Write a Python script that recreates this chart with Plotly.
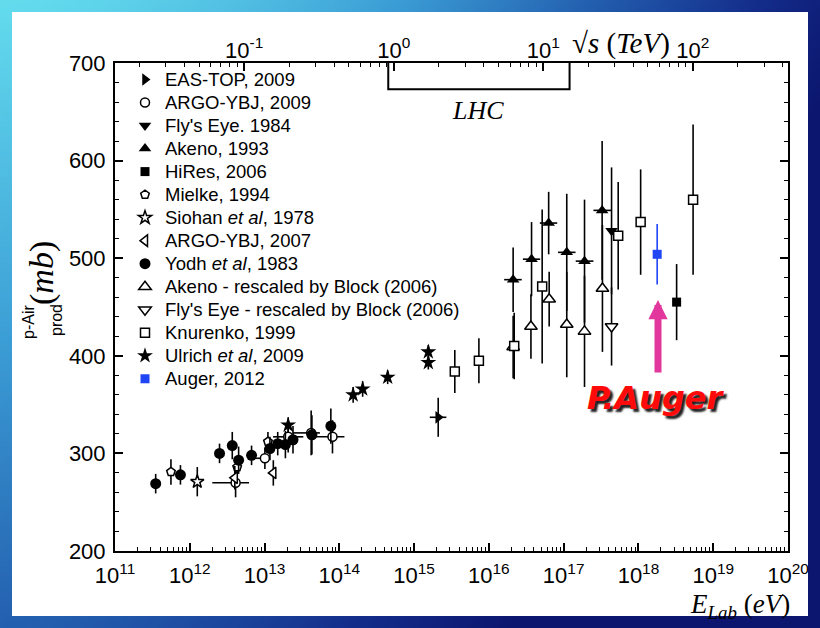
import base64, struct, zlib
import numpy as np
import plotly.graph_objects as go

# ---------------- data ----------------
eastop_E = [2.1e15]
eastop_s = [337]
eastop_e = [20]
eastop_lo = [1.62e15]
eastop_hi = [2.7e15]

argo09_E = [4.1e12, 1.01e13, 2.07e13, 4.2e13, 8.1e13]
argo09_s = [270, 295, 317, 321, 317]
argo09_e = [15, 11, 16, 23, 17]
argo09_lo = [2.0e12, 7.1e12, 1.3e13, 2.4e13, 4.3e13]
argo09_hi = [6.2e12, 1.17e13, 3.3e13, 5.5e13, 1.17e14]

flyseye_E = [4.37e17]
flyseye_s = [528]
flyseye_e = [65]

akeno_E = [2.11e16, 3.72e16, 6.3e16, 1.1e17, 1.9e17, 3.27e17]
akeno_s = [478, 499, 536, 506, 497, 549]
akeno_e = [33, 38, 32, 60, 63, 71]
akeno_lo = [1.6e16, 2.85e16, 4.8e16, 8.4e16, 1.45e17, 2.5e17]
akeno_hi = [2.75e16, 4.85e16, 8.2e16, 1.44e17, 2.5e17, 4.3e17]

hires_E = [3.24e18]
hires_s = [455]
hires_e = [39]

mielke_E = [5.6e11, 4.3e12, 1.11e13]
mielke_s = [281, 286, 312]
mielke_e = [13, 10, 10]

siohan_E = [1.26e12]
siohan_s = [271]
siohan_e = [15]

argo07_E = [4.0e12, 1.31e13]
argo07_s = [275, 280]
argo07_e = [12, 13]

yodh_E = [3.5e11, 7.5e11, 2.5e12, 3.7e12, 4.5e12, 6.7e12, 1.18e13, 1.5e13,
          1.9e13, 2.4e13, 4.3e13, 7.7e13]
yodh_s = [269, 278, 300, 308, 293, 298, 305, 310, 309, 314, 319, 328]
yodh_e = [10, 10, 10, 14, 14, 10, 12, 12, 14, 14, 20, 18]

akeno_rs_E = [2.11e16, 3.65e16, 6.4e16, 1.1e17, 1.9e17, 3.3e17]
akeno_rs_s = [409, 430, 458, 432, 425, 469]
akeno_rs_e = [32, 33, 28, 54, 57, 65]

flyseye_rs_E = [4.37e17]
flyseye_rs_s = [430]
flyseye_rs_e = [40]

knurenko_E = [3.5e15, 7.35e15, 2.18e16, 5.16e16, 5.36e17, 1.07e18, 5.38e18]
knurenko_s = [384, 395, 410, 471, 523, 537, 560]
knurenko_e = [22, 23, 34, 79, 55, 54, 77]

ulrich_E = [2.07e13, 1.53e14, 2.05e14, 4.43e14, 1.55e15, 1.55e15]
ulrich_s = [329, 360, 366, 378, 393, 404]
ulrich_e = [8, 8, 8, 7, 7, 7]

auger_E = [1.78e18]
auger_s = [504]
auger_e = [31]

x_tickvals = [1e11, 1e12, 1e13, 1e14, 1e15, 1e16, 1e17, 1e18, 1e19, 1e20]
x_ticktext = ["10<sup>11</sup>", "10<sup>12</sup>", "10<sup>13</sup>", "10<sup>14</sup>",
              "10<sup>15</sup>", "10<sup>16</sup>", "10<sup>17</sup>", "10<sup>18</sup>",
              "10<sup>19</sup>", "10<sup>20</sup>"]
top_tickvals = [0.1, 1, 10, 100]
top_ticktext = ["10<sup>-1</sup>", "10<sup>0</sup>", "10<sup>1</sup>", "10<sup>2</sup>"]
lhc_sqrts = [0.92, 0.92, 15.0, 15.0]
lhc_level = [700, 673, 673, 700]

# ---------------- background gradient image ----------------
def gradient_png(W=164, H=126):
    stops = [(0.0, (100, 220, 238)), (0.3, (60, 158, 214)), (0.55, (36, 96, 176)),
             (0.8, (20, 46, 140)), (1.0, (12, 22, 110))]
    raw = bytearray()
    for j in range(H):
        raw.append(0)
        v = j / (H - 1)
        for i in range(W):
            u = i / (W - 1)
            s = min(1.0, 0.9 * u ** 1.5 + 0.55 * v)
            for k in range(len(stops) - 1):
                if stops[k][0] <= s <= stops[k + 1][0]:
                    a, ca = stops[k]
                    b, cb = stops[k + 1]
                    t = (s - a) / (b - a)
                    c = [int(ca[m] + t * (cb[m] - ca[m])) for m in range(3)]
                    break
            raw.extend(c)
    def chunk(tag, data):
        return struct.pack(">I", len(data)) + tag + data + struct.pack(">I", zlib.crc32(tag + data) & 0xffffffff)
    png = b"\x89PNG\r\n\x1a\n" + chunk(b"IHDR", struct.pack(">IIBBBBB", W, H, 8, 2, 0, 0, 0)) \
        + chunk(b"IDAT", zlib.compress(bytes(raw), 9)) + chunk(b"IEND", b"")
    return "data:image/png;base64," + base64.b64encode(png).decode()

# ---------------- figure ----------------
FIG_W, FIG_H = 820, 628
ML, MR, MT, MB = 115, 32, 63, 77
PW, PH = FIG_W - ML - MR, FIG_H - MT - MB

def px(xp):
    return (xp - ML) / PW

def py(yp):
    return (FIG_H - MB - yp) / PH

fig = go.Figure()

def add(name, E, s, e, symbol, filled=True, color="black", size=10, lo=None, hi=None):
    marker = dict(symbol=symbol, size=size)
    if filled:
        marker.update(color=color, line=dict(width=0))
    else:
        marker.update(color="white", line=dict(color=color, width=1.5))
    tr = dict(x=E, y=s, mode="markers", marker=marker,
              name='<span style="font-size:18.5px">' + name + '</span>',
              error_y=dict(type="data", array=e, visible=True, color=color, thickness=1.6, width=0))
    if lo is not None:
        tr["error_x"] = dict(type="data", symmetric=False,
                             array=[h - x for h, x in zip(hi, E)],
                             arrayminus=[x - l for x, l in zip(E, lo)],
                             visible=True, color=color, thickness=1.6, width=0)
    fig.add_trace(go.Scatter(**tr))

add("EAS-TOP, 2009", eastop_E, eastop_s, eastop_e, "triangle-right", size=11, lo=eastop_lo, hi=eastop_hi)
add("ARGO-YBJ, 2009", argo09_E, argo09_s, argo09_e, "circle", filled=False, size=9, lo=argo09_lo, hi=argo09_hi)
add("Fly's Eye. 1984", flyseye_E, flyseye_s, flyseye_e, "triangle-down", size=11)
add("Akeno, 1993", akeno_E, akeno_s, akeno_e, "triangle-up", size=11, lo=akeno_lo, hi=akeno_hi)
add("HiRes, 2006", hires_E, hires_s, hires_e, "square", size=9)
add("Mielke, 1994", mielke_E, mielke_s, mielke_e, "pentagon", filled=False, size=9)
add("Siohan <i>et al</i>, 1978", siohan_E, siohan_s, siohan_e, "star", filled=False, size=10)
add("ARGO-YBJ, 2007", argo07_E, argo07_s, argo07_e, "triangle-left", filled=False, size=10)
add("Yodh <i>et al</i>, 1983", yodh_E, yodh_s, yodh_e, "circle", size=11)
add("Akeno - rescaled by Block (2006)", akeno_rs_E, akeno_rs_s, akeno_rs_e, "triangle-up", filled=False, size=11)
add("Fly's Eye - rescaled by Block (2006)", flyseye_rs_E, flyseye_rs_s, flyseye_rs_e, "triangle-down", filled=False, size=11)
add("Knurenko, 1999", knurenko_E, knurenko_s, knurenko_e, "square", filled=False, size=9)
add("Ulrich <i>et al</i>, 2009", ulrich_E, ulrich_s, ulrich_e, "star", size=12)
add("Auger, 2012", auger_E, auger_s, auger_e, "square", color="#1f45f5", size=9)

# LHC bracket on the sqrt(s) axis
fig.add_trace(go.Scatter(x=lhc_sqrts, y=lhc_level, xaxis="x2", mode="lines",
                         line=dict(color="black", width=2), showlegend=False, hoverinfo="skip"))

# sqrt(s) = sqrt(2 m_p E), m_p = 0.938 GeV
mp = 0.938e9
top_range = [np.log10(np.sqrt(2 * mp * 1e11) / 1e12), np.log10(np.sqrt(2 * mp * 1e20) / 1e12)]

def log_minor(lo_exp, hi_exp):
    return [m * 10.0 ** d for d in range(lo_exp, hi_exp) for m in range(2, 10)]

tickfont = dict(family="Liberation Sans, Arial", size=22, color="black")
fig.update_layout(
    width=FIG_W, height=FIG_H,
    margin=dict(l=ML, r=MR, t=MT, b=MB),
    paper_bgcolor="#1a3a9a", plot_bgcolor="white",
    showlegend=True,
    legend=dict(x=px(125), y=py(63), xanchor="left", yanchor="top", bgcolor="rgba(0,0,0,0)",
                font=dict(family="Liberation Sans, Arial", size=15.4, color="black"),
                tracegroupgap=0, itemwidth=30),
    xaxis=dict(type="log", range=[11, 20], tickmode="array", tickvals=x_tickvals, ticktext=x_ticktext,
               ticks="inside", ticklen=8, tickwidth=1.5, tickcolor="black",
               showline=True, linecolor="black", linewidth=2, mirror=True,
               showgrid=False, zeroline=False, tickfont=tickfont, ticklabelstandoff=4,
               minor=dict(tickmode="array", tickvals=log_minor(11, 20), ticks="inside",
                          ticklen=4, tickwidth=1.2, tickcolor="black", showgrid=False)),
    xaxis2=dict(type="log", overlaying="x", side="top", anchor="y", range=top_range,
                tickmode="array", tickvals=top_tickvals, ticktext=top_ticktext,
                ticks="inside", ticklen=8, tickwidth=1.5, tickcolor="black",
                showline=False, showgrid=False, zeroline=False, tickfont=tickfont,
                minor=dict(tickmode="array", tickvals=log_minor(-2, 3), ticks="inside",
                           ticklen=4, tickwidth=1.2, tickcolor="black", showgrid=False)),
    yaxis=dict(range=[200, 700], tickmode="linear", tick0=200, dtick=100,
               ticks="inside", ticklen=8, tickwidth=1.5, tickcolor="black",
               showline=True, linecolor="black", linewidth=2, mirror="ticks",
               showgrid=False, zeroline=False, tickfont=tickfont, ticklabelstandoff=3,
               minor=dict(dtick=20, ticks="inside", ticklen=4, tickwidth=1.2,
                          tickcolor="black", showgrid=False)),
)

# background gradient + white panel
fig.add_layout_image(dict(source=gradient_png(), xref="paper", yref="paper",
                          x=px(0), y=py(0), sizex=FIG_W / PW, sizey=FIG_H / PH,
                          xanchor="left", yanchor="top", sizing="stretch", layer="below"))
fig.add_shape(type="rect", xref="paper", yref="paper", x0=px(12), x1=px(808), y0=py(616), y1=py(12),
              fillcolor="white", line=dict(width=0), layer="below")

serif = "Liberation Serif, Times New Roman"
annots = [
    dict(text="<i>LHC</i>", x=px(478), y=py(110), font=dict(family=serif, size=26)),
    dict(text="√<i>s</i> (<i>TeV</i>)", x=px(621), y=py(43), font=dict(family=serif, size=29)),
    dict(text="<i>E</i><sub><i>Lab</i></sub> (<i>eV</i>)", x=px(792), y=py(606), xanchor="right",
         font=dict(family=serif, size=27)),
    dict(text="p-Air", x=px(28), y=py(322), textangle=-90,
         font=dict(family="Liberation Sans, Arial", size=16)),
    dict(text="prod", x=px(56), y=py(320), textangle=-90,
         font=dict(family="Liberation Sans, Arial", size=16)),
    dict(text="(<i>mb</i>)", x=px(42), y=py(273), textangle=-90, font=dict(family=serif, size=34)),
    dict(text="<b><i>P.Auger</i></b>", x=px(656), y=py(398),
         font=dict(family="DejaVu Sans", size=32, color="#ff0a0a", shadow="3px 3px 2px #222")),
]
for a in annots:
    a.setdefault("xanchor", "center")
    a.update(xref="paper", yref="paper", showarrow=False, yanchor="middle")
    a["font"].setdefault("color", "black")
    fig.add_annotation(**a)

# magenta arrow pointing at the Auger point
fig.add_annotation(x=px(658), y=py(300), xref="paper", yref="paper", text="", showarrow=True,
                   ax=0, ay=74, arrowhead=2, arrowsize=0.55, arrowwidth=7, arrowcolor="#e2379c")

fig.write_html("out.html")
